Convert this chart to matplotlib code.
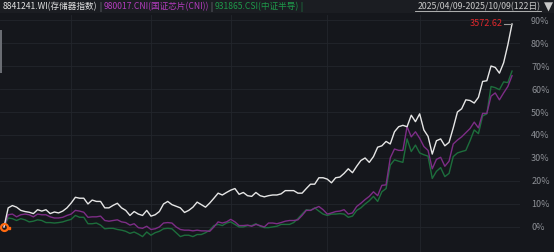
import numpy as np
import matplotlib.pyplot as plt
from matplotlib.lines import Line2D
from matplotlib.patches import Rectangle

plt.rcParams['font.family'] = ['Noto Sans CJK SC', 'DejaVu Sans']

# 区间涨跌幅 (%), 2025/04/09 - 2025/10/09
storage = [0, 8.3, 9.3, 8.6, 7.2, 6.7, 6.4, 5.8, 7.5,
           6.9, 7.5, 5.8, 6.5, 6.1, 6.9, 8.3, 10.4, 12.9, 12.5,
           12.5, 10.0, 11.7, 11.1, 11.1, 8.3, 8.3, 9.4, 10.3, 8.3,
           7.2, 5.0, 6.7, 5.6, 5.0, 7.2, 4.7, 5.3, 6.7, 10.0,
           11.1, 9.7, 9.0, 8.3, 6.3, 7.2, 8.6, 10.8, 9.7, 8.6,
           10.4, 12.5, 14.7, 13.9, 15.0, 16.0, 16.7, 14.2, 15.0, 13.6,
           13.3, 15.0, 13.6, 13.1, 13.6, 13.9, 13.9, 14.4, 15.8, 15.8,
           15.8, 14.7, 14.7, 16.7, 18.6, 18.6, 21.4, 21.4, 20.8, 19.2,
           21.4, 21.7, 23.3, 25.3, 23.6, 26.4, 28.9, 30.0, 28.1, 30.6,
           34.7, 35.3, 37.2, 36.1, 41.4, 43.6, 44.2, 43.6, 48.6, 45.8,
           49.2, 42.2, 39.4, 31.7, 37.5, 38.3, 35.3, 36.8, 43.1, 50.0,
           51.4, 55.3, 55.0, 53.9, 56.4, 63.3, 63.6, 70.0, 69.4, 66.9,
           71.4, 79.2, 88.3]

chip = [0, 5.3, 5.6, 4.4, 5.3, 5.6, 5.3, 4.4, 5.6,
        5.3, 5.3, 4.4, 3.9, 3.9, 4.2, 5.0, 5.6, 7.2, 6.9,
        6.4, 4.2, 4.4, 4.4, 4.7, 2.8, 2.5, 2.8, 3.1, 2.2,
        1.9, 0.8, 1.4, -0.3, -0.6, 0.3, -1.1, -0.8, 0, 1.7,
        1.9, 1.7, 0, -1.1, -1.4, -1.4, -1.7, -1.4, -1.7, -1.7,
        -1.9, 0, 2.2, 1.7, 2.2, 3.3, 2.2, 0.6, 0.6, 0.8,
        0.3, 1.1, 0.6, 0, 1.7, 1.7, 1.4, 1.9, 2.5, 2.8,
        2.8, 3.1, 5.0, 7.2, 7.2, 8.1, 8.9, 7.5, 5.6, 6.1,
        6.7, 6.9, 7.5, 5.6, 6.1, 8.9, 10.3, 11.9, 13.3, 15.3,
        13.6, 18.1, 18.3, 30.0, 33.9, 33.3, 33.3, 43.6, 39.2, 41.4,
        38.6, 35.0, 33.3, 25.3, 29.4, 30.3, 26.4, 28.6, 36.1, 37.8,
        39.2, 41.0, 42.8, 45.6, 43.1, 49.4, 49.4, 56.9, 58.3, 55.3,
        58.3, 61.1, 65.8]

semi = [0, 3.9, 3.6, 2.8, 3.6, 3.1, 2.2, 2.5, 3.1,
        2.8, 1.9, 1.9, 1.7, 1.9, 2.2, 2.8, 3.3, 5.0, 4.2,
        4.2, 1.4, 1.4, 1.7, 0.8, -0.8, -0.6, -0.6, -1.1, -1.4,
        -1.9, -2.8, -2.2, -3.1, -4.2, -2.2, -3.6, -2.5, -1.9, -0.8,
        -0.6, -0.8, -2.5, -4.2, -3.6, -3.6, -4.2, -3.3, -3.3, -2.5,
        -1.4, 0.6, 1.1, 0.6, 1.7, 2.2, 1.1, 0, 0, 0.6,
        0.6, 1.4, 0.3, -0.3, -0.3, 0, 0.3, 1.1, 1.1, 1.1,
        1.9, 3.6, 5.6, 7.5, 7.2, 8.3, 6.9, 5.6, 5.0, 5.6,
        5.6, 5.8, 5.6, 4.2, 4.7, 7.2, 8.3, 10.0, 11.4, 13.3,
        11.1, 15.3, 16.7, 26.9, 29.2, 28.6, 28.1, 38.3, 32.8, 35.6,
        32.2, 31.4, 30.8, 21.1, 24.2, 25.8, 21.9, 23.3, 30.6, 32.2,
        32.8, 33.3, 37.5, 42.2, 40.6, 48.3, 49.2, 61.1, 60.6, 59.7,
        63.1, 62.8, 67.8]

yticks = [0, 10, 20, 30, 40, 50, 60, 70, 80, 90]
month_starts = [16, 35, 54, 77, 99]
last_close = "3572.62"
header = [('8841241.WI(存储器指数)', '#e2e2e2'), (' | ', '#8d9096'),
          ('980017.CNI(国证芯片(CNI))', '#b43cbe'), (' | ', '#8d9096'),
          ('931865.CSI(中证半导)', '#1e9a4a'), (' |', '#1e9a4a')]

bg = '#15171c'
W, H = 554, 252
fig = plt.figure(figsize=(W / 100, H / 100), dpi=100, facecolor=bg)

# header band
fig.patches.append(Rectangle((0, 1 - 13 / H), 1, 13 / H, transform=fig.transFigure,
                             facecolor='#1b1d22', edgecolor='none', zorder=0))
fig.patches.append(Rectangle((0, 1 - 73 / H), 2 / W, 43 / H, transform=fig.transFigure,
                             facecolor='#6a6d73', edgecolor='none', zorder=0))

ax = fig.add_axes([0, 0, 520 / W, 237 / H])
ax.set_facecolor(bg)
x = np.arange(len(storage))
ax.plot(x, semi, color='#1d6e3c', lw=1.0)
ax.plot(x, chip, color='#7d2d86', lw=1.0)
ax.plot(x, storage, color='#e6e6e6', lw=1.0)
ax.plot(0, 0, 'o', ms=5, mfc='none', mec='#ff6a10', mew=1.6, zorder=5)
ax.plot(1.1, -0.4, 's', ms=1.5, color='#ff6a10', zorder=5)

ax.set_xlim(-0.95, 122.9)
ax.set_ylim(-10.9, 92.2)
ax.set_yticks(yticks)
ax.set_yticklabels([f'{v}%' for v in yticks])
ax.yaxis.tick_right()
ax.tick_params(axis='y', length=0, pad=8, labelsize=6.5, labelcolor='#8d9096')
ax.set_xticks(month_starts)
ax.tick_params(axis='x', length=0, labelbottom=False)
ax.grid(True, color='#23262c', lw=0.6)
for s in ax.spines.values():
    s.set_visible(False)

# last value label
xe, ye = x[-1], storage[-1]
ax.annotate(last_close, xy=(xe, ye), xytext=(-9, 0), textcoords='offset pixels',
            ha='right', va='center', color='#e0282c', fontsize=6.5)
ax.plot([xe - 2, xe], [ye, ye], color='#9a9a9a', lw=0.8)

# header, laid out left to right
ty = 1 - 7 / H
r = fig.canvas.get_renderer()
px = 3
for txt, col in header:
    t = fig.text(px / W, ty, txt, color=col, fontsize=6.2, va='center')
    px += t.get_window_extent(r).width
fig.text(541 / W, ty, '2025/04/09-2025/10/09(122日)', color='#c8c8c8', fontsize=6.3,
         va='center', ha='right')
fig.add_artist(Line2D([415 / W, 541 / W], [1 - 10.5 / H, 1 - 10.5 / H], color='#c8c8c8', lw=0.6))
fig.text(548 / W, ty, '▼', color='#c8c8c8', fontsize=8.5, va='center', ha='center',
         family=['DejaVu Sans'])

plt.savefig('out.png', dpi=100, facecolor=bg)
